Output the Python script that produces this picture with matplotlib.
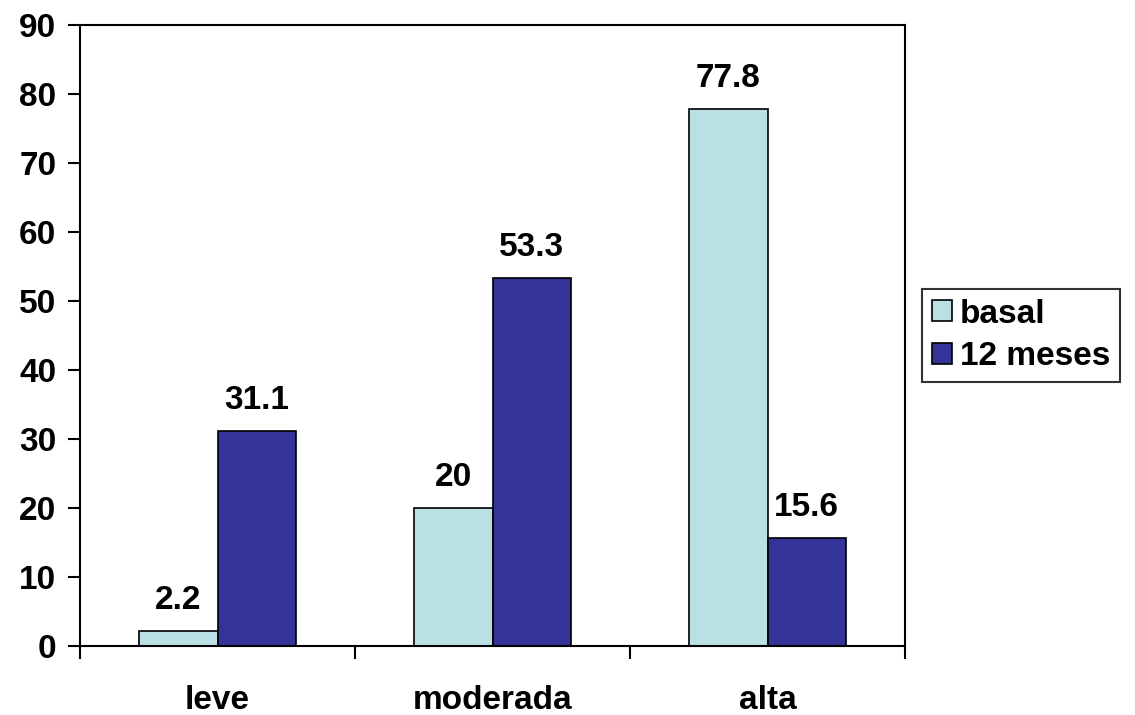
import matplotlib
matplotlib.use("Agg")
import matplotlib.pyplot as plt
import numpy as np

categories = ["leve", "moderada", "alta"]
basal = [2.2, 20, 77.8]
meses12 = [31.1, 53.3, 15.6]
series_names = ["basal", "12 meses"]
yticks = [0, 10, 20, 30, 40, 50, 60, 70, 80, 90]

plt.rcParams['font.family'] = ['Liberation Sans', 'DejaVu Sans']
plt.rcParams['font.weight'] = 'bold'

fig = plt.figure(figsize=(11.35, 7.15), dpi=100)
ax = fig.add_axes([80/1135, 69/715, 825/1135, 621/715])

x = np.arange(len(categories))
w = 0.285
b1 = ax.bar(x - w/2, basal, w, color="#BBE0E3", edgecolor="black", linewidth=1.2, label=series_names[0])
b2 = ax.bar(x + w/2, meses12, w, color="#333399", edgecolor="black", linewidth=1.2, label=series_names[1])

for bars, vals in ((b1, basal), (b2, meses12)):
    for r, v in zip(bars, vals):
        ax.annotate(f"{v:g}", (r.get_x() + r.get_width()/2, v), xytext=(0, 11),
                    textcoords="offset points", ha="center", va="bottom",
                    fontsize=24, fontweight="bold")

ax.set_xlim(-0.5, 2.5)
ax.set_ylim(0, 90)
ax.set_yticks(yticks)
ax.set_yticklabels([str(t) for t in yticks], fontsize=24, fontweight="bold")
ax.set_xticks([-0.5, 0.5, 1.5, 2.5])
ax.set_xticklabels([])
ax.set_xticks(x, minor=True)
ax.set_xticklabels(categories, minor=True, fontsize=24, fontweight="bold")
ax.tick_params(axis="x", which="minor", length=0, pad=28)
ax.tick_params(axis="x", which="major", length=9, width=1.5, direction="out")
ax.tick_params(axis="y", length=9, width=1.5, direction="out", pad=8)
for s in ax.spines.values():
    s.set_linewidth(1.5)

leg = ax.legend(loc="center left", bbox_to_anchor=(1.02, 0.5), frameon=True,
                fancybox=False, edgecolor="black",
                prop={"weight": "bold", "size": 24},
                handlelength=0.6, handleheight=0.6, handletextpad=0.25,
                borderpad=0.3, labelspacing=0.35, borderaxespad=0)
leg.get_frame().set_linewidth(1.5)

fig.savefig("out.png", dpi=100)
